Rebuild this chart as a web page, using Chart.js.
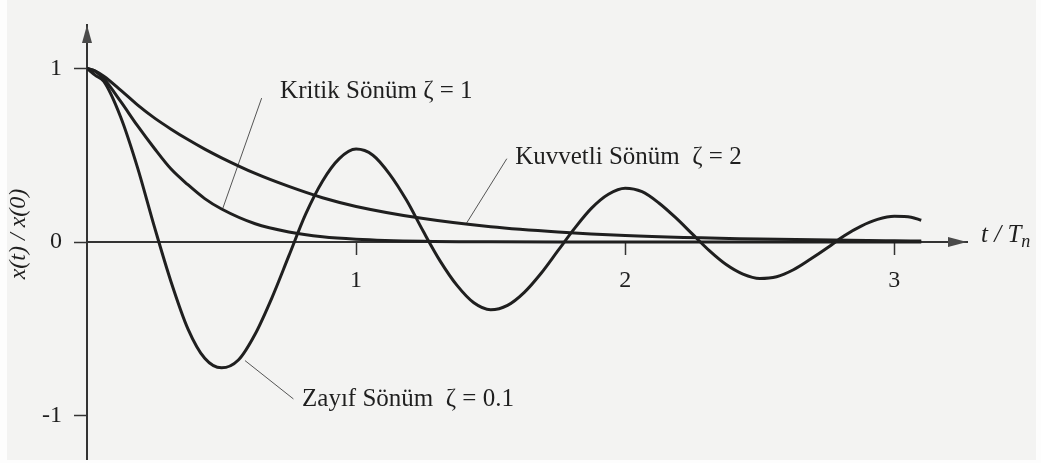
<!DOCTYPE html>
<html>
<head>
<meta charset="utf-8">
<script src="https://cdn.jsdelivr.net/npm/chart.js@4.4.1/dist/chart.umd.min.js"></script>
<style>
  html, body { margin: 0; padding: 0; background: #fdfdfd; }
  canvas { display: block; }
</style>
</head>
<body>
<canvas id="response" width="1041" height="463"></canvas>
<script>
// t / Tn samples for the two non-oscillating responses
var tDecay = [0, 0.03125, 0.0625, 0.125, 0.1875, 0.25, 0.3125, 0.375, 0.4375, 0.5, 0.625, 0.75, 0.875,
    1.0, 1.25, 1.5, 1.75, 2.0, 2.5, 3.0, 3.1];
var kritikValues = [1, 0.983, 0.94, 0.81, 0.67, 0.54, 0.42, 0.33, 0.25, 0.19, 0.105, 0.058, 0.03,
    0.016, 0.004, 0.001, 0, 0, 0, 0, 0];
var kuvvetliValues = [1, 0.985, 0.955, 0.875, 0.79, 0.715, 0.65, 0.59, 0.535, 0.485, 0.395, 0.32, 0.255,
    0.205, 0.135, 0.088, 0.058, 0.038, 0.017, 0.007, 0.006];

// t / Tn samples for the lightly damped response
var tZayif = [0, 0.03125, 0.0625, 0.125, 0.1875, 0.25, 0.3125, 0.375, 0.4375, 0.5, 0.5625, 0.625, 0.6875,
    0.75, 0.8125, 0.875, 0.9375, 1.0, 1.0625, 1.125, 1.1875, 1.25, 1.3125, 1.375, 1.4375, 1.5, 1.5625,
    1.625, 1.6875, 1.75, 1.8125, 1.875, 1.9375, 2.0, 2.0625, 2.125, 2.1875, 2.25, 2.3125, 2.375, 2.4375,
    2.5, 2.5625, 2.625, 2.6875, 2.75, 2.8125, 2.875, 2.9375, 3.0, 3.0625, 3.1];
var zayifValues = [1, 0.96, 0.925, 0.72, 0.43, 0.09, -0.23, -0.50, -0.67, -0.725, -0.68, -0.53, -0.32,
    -0.08, 0.16, 0.35, 0.48, 0.535, 0.50, 0.39, 0.24, 0.06, -0.11, -0.25, -0.35, -0.39, -0.365,
    -0.29, -0.18, -0.05, 0.08, 0.195, 0.275, 0.31, 0.29, 0.225, 0.14, 0.045, -0.05, -0.13, -0.185,
    -0.21, -0.2, -0.16, -0.1, -0.035, 0.035, 0.09, 0.13, 0.148, 0.143, 0.125];

var xTickValues = [1, 2, 3];
var xTickLabels = ['1', '2', '3'];
var yTickValues = [-1, 0, 1];
var yTickLabels = ['-1', '0', '1'];

// curve names and the leader line from each curve to its name (axis units)
var curveNames = ['Kritik Sönüm ζ = 1', 'Kuvvetli Sönüm  ζ = 2', 'Zayıf Sönüm  ζ = 0.1'];
var nameT = [0.7175, 1.591, 0.799];
var nameV = [0.827, 0.45, -0.942];
var leaderCurveT = [0.504, 1.411, 0.587];
var leaderCurveV = [0.191, 0.11, -0.683];
var leaderTextT = [0.649, 1.560, 0.767];
var leaderTextV = [0.829, 0.48, -0.904];

var SERIF = "'Liberation Serif', 'Times New Roman', serif";
var INK = '#1f1f1f';

function toPoints(xs, ys) {
    return xs.map(function(x, i) { return { x: x, y: ys[i] }; });
}

function curve(xs, ys) {
    return {
        data: toPoints(xs, ys),
        borderColor: INK,
        borderWidth: 3,
        pointRadius: 0,
        cubicInterpolationMode: 'monotone',
        fill: false
    };
}

var datasets = [
    curve(tDecay, kuvvetliValues),
    curve(tDecay, kritikValues),
    curve(tZayif, zayifValues)
];

// thin leader lines, one per curve name
for (var i = 0; i < curveNames.length; i++) {
    datasets.push({
        data: [{ x: leaderCurveT[i], y: leaderCurveV[i] }, { x: leaderTextT[i], y: leaderTextV[i] }],
        borderColor: '#555',
        borderWidth: 1,
        pointRadius: 0,
        tension: 0,
        fill: false
    });
}

var paperPlugin = {
    id: 'paper',
    beforeDraw: function(chart) {
        var ctx = chart.ctx;
        ctx.save();
        ctx.fillStyle = '#fdfdfd';
        ctx.fillRect(0, 0, chart.width, chart.height);
        ctx.fillStyle = '#f3f3f2';
        ctx.fillRect(7, 0, chart.width - 12, chart.height - 3);
        ctx.restore();
    }
};

var annotatePlugin = {
    id: 'annotate',
    afterDraw: function(chart) {
        var ctx = chart.ctx;
        var xs = chart.scales.x;
        var ys = chart.scales.y;
        var x0 = xs.getPixelForValue(0);
        var y0 = ys.getPixelForValue(0);

        ctx.save();
        // arrow heads on both axes
        ctx.fillStyle = '#4a4a4a';
        ctx.beginPath();
        ctx.moveTo(x0, ys.top);
        ctx.lineTo(x0 - 5, ys.top + 18);
        ctx.lineTo(x0 + 5, ys.top + 18);
        ctx.closePath();
        ctx.fill();

        ctx.beginPath();
        ctx.moveTo(xs.right, y0);
        ctx.lineTo(xs.right - 19, y0 - 5);
        ctx.lineTo(xs.right - 19, y0 + 5);
        ctx.closePath();
        ctx.fill();

        // curve names
        ctx.fillStyle = INK;
        ctx.font = '25px ' + SERIF;
        ctx.textAlign = 'left';
        ctx.textBaseline = 'alphabetic';
        for (var i = 0; i < curveNames.length; i++) {
            ctx.fillText(curveNames[i], xs.getPixelForValue(nameT[i]), ys.getPixelForValue(nameV[i]));
        }

        // horizontal axis title t / Tn
        ctx.font = 'italic 25px ' + SERIF;
        var tx = xs.right + 14;
        ctx.fillText('t / T', tx, y0);
        var w = ctx.measureText('t / T').width;
        ctx.font = 'italic 18px ' + SERIF;
        ctx.fillText('n', tx + w, y0 + 5);

        // vertical axis title
        ctx.translate(19, 234);
        ctx.rotate(-Math.PI / 2);
        ctx.font = 'italic 24px ' + SERIF;
        ctx.textAlign = 'center';
        ctx.textBaseline = 'middle';
        ctx.fillText('x(t) / x(0)', 0, 0);
        ctx.restore();
    }
};

new Chart(document.getElementById('response'), {
    type: 'line',
    data: { datasets: datasets },
    plugins: [paperPlugin, annotatePlugin],
    options: {
        responsive: false,
        animation: false,
        events: [],
        layout: { padding: { top: 25, right: 74, bottom: 4, left: 0 } },
        plugins: {
            legend: { display: false },
            tooltip: { enabled: false }
        },
        scales: {
            x: {
                type: 'linear',
                position: { y: 0 },
                min: 0,
                max: 3.27,
                afterBuildTicks: function(axis) {
                    axis.ticks = xTickValues.map(function(v) { return { value: v }; });
                },
                afterFit: function(axis) {
                    axis.paddingLeft = 0;
                    axis.paddingRight = 0;
                },
                border: { display: true, color: '#333', width: 2 },
                grid: {
                    drawOnChartArea: false,
                    drawTicks: true,
                    tickLength: 12,
                    tickColor: '#333',
                    tickWidth: 1.5
                },
                ticks: {
                    padding: 12,
                    color: INK,
                    font: { family: SERIF, size: 24 },
                    maxRotation: 0,
                    callback: function(value, index) { return xTickLabels[index]; }
                }
            },
            y: {
                type: 'linear',
                position: 'left',
                min: -1.25,
                max: 1.25,
                afterBuildTicks: function(axis) {
                    axis.ticks = yTickValues.map(function(v) { return { value: v }; });
                },
                afterFit: function(axis) {
                    axis.width = 87;
                    axis.paddingTop = 0;
                    axis.paddingBottom = 0;
                },
                border: { display: true, color: '#333', width: 2 },
                grid: {
                    drawOnChartArea: false,
                    drawTicks: true,
                    tickLength: 13,
                    tickColor: '#333',
                    tickWidth: 1.5
                },
                ticks: {
                    padding: 12,
                    color: INK,
                    font: { family: SERIF, size: 24 },
                    callback: function(value, index) { return yTickLabels[index]; }
                }
            }
        }
    }
});
</script>
</body>
</html>
